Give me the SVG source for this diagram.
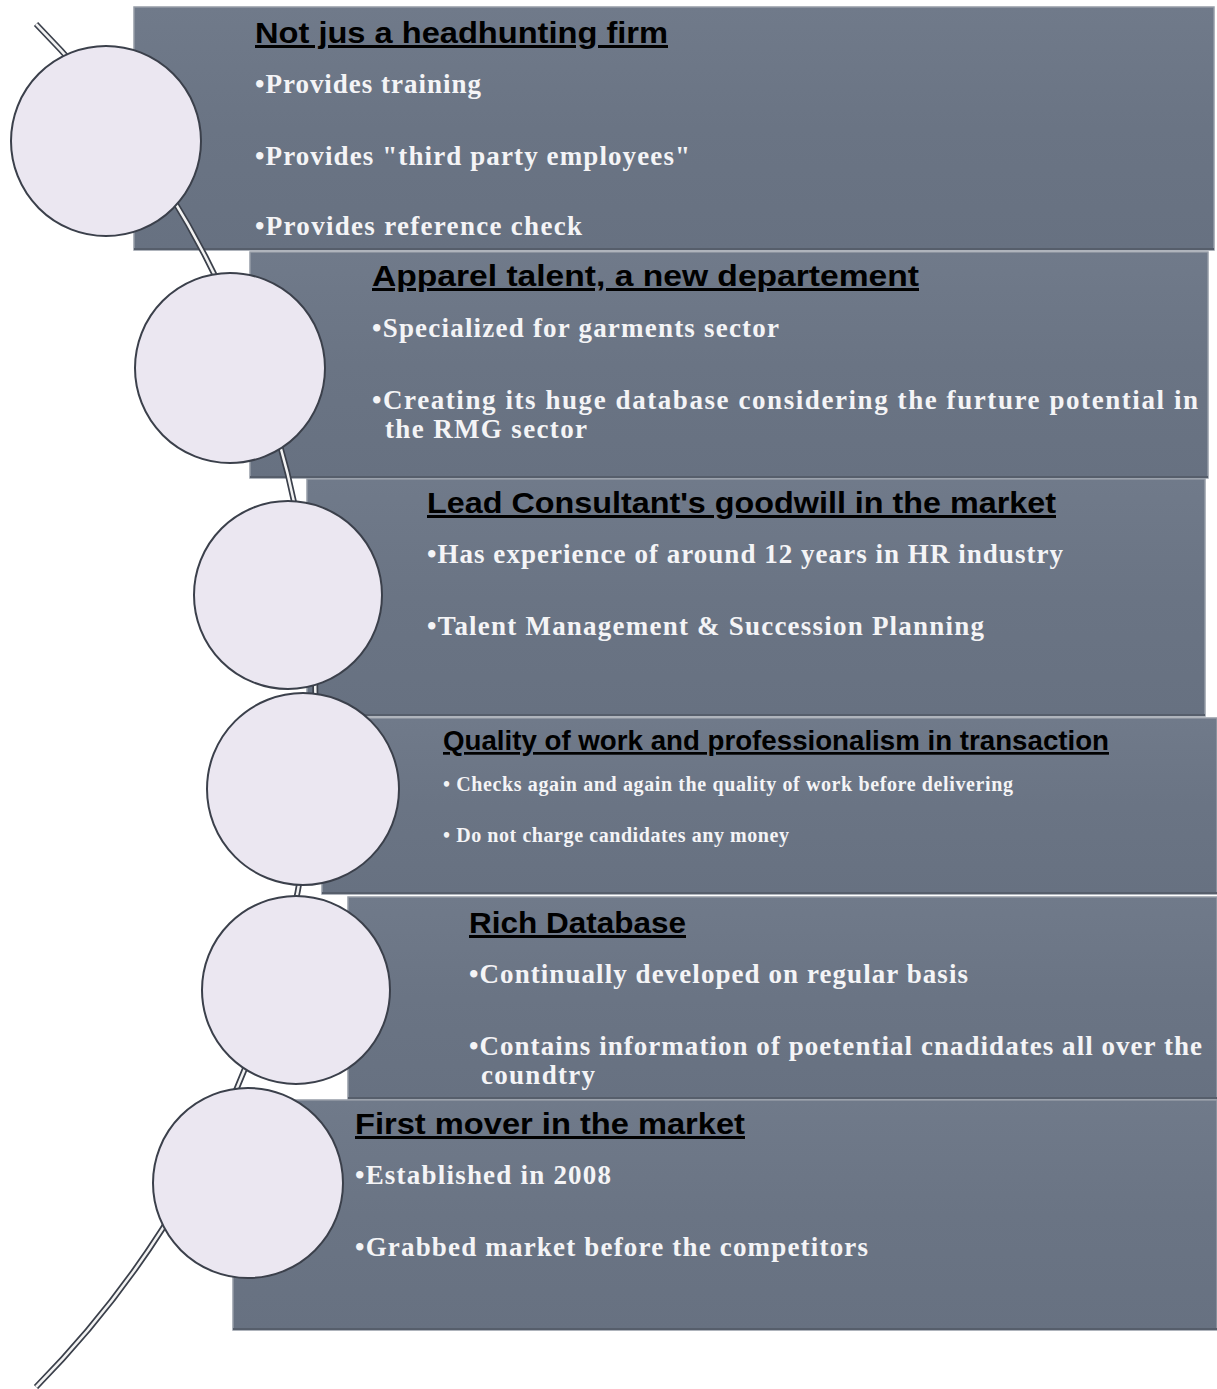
<svg xmlns="http://www.w3.org/2000/svg" width="1217" height="1389" viewBox="0 0 1217 1389">
<style>
.box{fill:url(#bg);stroke:#959ca7;stroke-width:1.5}
.edge{fill:none;stroke:#565e6b;stroke-width:2}
.ball{fill:#ebe7f1;stroke:#3b404b;stroke-width:2}
.t{font-family:"Liberation Sans",Arial,sans-serif;font-weight:bold;font-size:30px;fill:#000;text-decoration:underline}
.b{font-family:"Liberation Serif","Times New Roman",serif;font-weight:bold;font-size:27px;fill:#f4f4f6}
.s{font-size:20px}
.t2{font-size:27px}
</style>
<defs>
<linearGradient id="bg" x1="0" y1="0" x2="0" y2="1">
<stop offset="0" stop-color="#707a8a"/>
<stop offset="0.5" stop-color="#6a7484"/>
<stop offset="1" stop-color="#677181"/>
</linearGradient>
</defs>
<g id="node1"><rect class="box" x="134" y="7" width="1080" height="243"/><line class="edge" x1="134" y1="249" x2="1214" y2="249"/></g>
<g id="node2"><rect class="box" x="250" y="252" width="958" height="226"/><line class="edge" x1="250" y1="477" x2="1208" y2="477"/></g>
<g id="node3"><rect class="box" x="307" y="479" width="898" height="237"/><line class="edge" x1="307" y1="715" x2="1205" y2="715"/></g>
<g id="node4"><rect class="box" x="322" y="718" width="895" height="176"/><line class="edge" x1="322" y1="893" x2="1217" y2="893"/></g>
<g id="node5"><rect class="box" x="348" y="897" width="869" height="202"/><line class="edge" x1="348" y1="1098" x2="1217" y2="1098"/></g>
<g id="node6"><rect class="box" x="233" y="1100" width="984" height="230"/><line class="edge" x1="233" y1="1329" x2="1217" y2="1329"/></g>
<g id="connectors">
<path d="M36 24 A970.6 970.6 0 0 1 36 1387" fill="none" stroke="#3b404b" stroke-width="6"/>
<path d="M36 24 A970.6 970.6 0 0 1 36 1387" fill="none" stroke="#f2f2f2" stroke-width="2.5"/>
</g>
<g id="circle1"><circle class="ball" cx="106" cy="141" r="95"/></g>
<g id="circle2"><circle class="ball" cx="230" cy="368" r="95"/></g>
<g id="circle3"><circle class="ball" cx="288" cy="595" r="94"/></g>
<g id="circle4"><circle class="ball" cx="303" cy="789" r="96"/></g>
<g id="circle5"><circle class="ball" cx="296" cy="990" r="94"/></g>
<g id="circle6"><circle class="ball" cx="248" cy="1183" r="95"/></g>
<g id="text1">
<text class="t" x="255" y="43" textLength="413" lengthAdjust="spacingAndGlyphs">Not jus a headhunting firm</text>
<text class="b" x="255" y="93" textLength="226">•Provides training</text>
<text class="b" x="255" y="165" textLength="435">•Provides "third party employees"</text>
<text class="b" x="255" y="235" textLength="327">•Provides reference check</text>
</g>
<g id="text2">
<text class="t" x="372" y="286" textLength="547" lengthAdjust="spacingAndGlyphs">Apparel talent, a new departement</text>
<text class="b" x="372" y="337" textLength="407">•Specialized for garments sector</text>
<text class="b" x="372" y="409" textLength="826">•Creating its huge database considering the furture potential in</text>
<text class="b" x="385" y="438" textLength="202">the RMG sector</text>
</g>
<g id="text3">
<text class="t" x="427" y="513" textLength="629" lengthAdjust="spacingAndGlyphs">Lead Consultant's goodwill in the market</text>
<text class="b" x="427" y="563" textLength="636">•Has experience of around 12 years in HR industry</text>
<text class="b" x="427" y="635" textLength="557">•Talent Management &amp; Succession Planning</text>
</g>
<g id="text4">
<text class="t t2" x="443" y="750" textLength="666" lengthAdjust="spacingAndGlyphs">Quality of work and professionalism in transaction</text>
<text class="b s" x="443" y="791" textLength="570">• Checks again and again the quality of work before delivering</text>
<text class="b s" x="443" y="842" textLength="346">• Do not charge candidates any money</text>
</g>
<g id="text5">
<text class="t" x="469" y="933" textLength="217" lengthAdjust="spacingAndGlyphs">Rich Database</text>
<text class="b" x="469" y="983" textLength="499">•Continually developed on regular basis</text>
<text class="b" x="469" y="1055" textLength="733">•Contains information of poetential cnadidates all over the</text>
<text class="b" x="481" y="1084" textLength="114">coundtry</text>
</g>
<g id="text6">
<text class="t" x="355" y="1134" textLength="390" lengthAdjust="spacingAndGlyphs">First mover in the market</text>
<text class="b" x="355" y="1184" textLength="256">•Established in 2008</text>
<text class="b" x="355" y="1256" textLength="513">•Grabbed market before the competitors</text>
</g>
</svg>
